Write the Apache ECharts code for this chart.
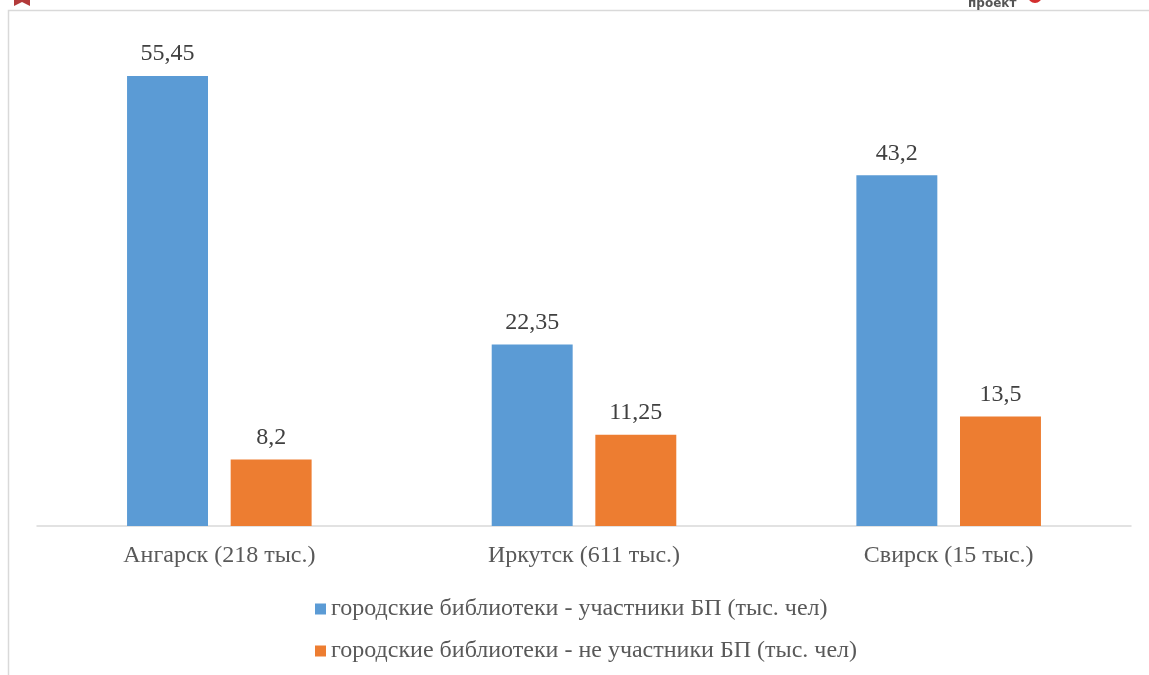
<!DOCTYPE html>
<html><head><meta charset="utf-8">
<script src="https://cdn.jsdelivr.net/npm/echarts@6/dist/echarts.min.js"></script>
<style>html,body{margin:0;padding:0;background:#fff}#c{width:1149px;height:675px}</style>
</head><body><div id="c"></div>
<script>
const categories = ['Ангарск (218 тыс.)', 'Иркутск (611 тыс.)', 'Свирск (15 тыс.)'];
const seriesNames = ['городские библиотеки - участники БП (тыс. чел)', 'городские библиотеки - не участники БП (тыс. чел)'];
const participants = [55.45, 22.35, 43.2];
const nonParticipants = [8.2, 11.25, 13.5];

const chart = echarts.init(document.getElementById('c'));
const font = '"Liberation Serif", "Times New Roman", serif';
const lbl = {
  show: true, position: 'top', distance: 10,
  fontFamily: font, fontSize: 24, color: '#404040',
  formatter: p => String(p.value).replace('.', ',')
};
chart.setOption({
  animation: false,
  graphic: [
    { type: 'polyline', shape: { points: [[8.5, 676], [8.5, 10.5], [1150, 10.5]] }, style: { stroke: '#d9d9d9', lineWidth: 1.5, fill: null } },
    { type: 'text', x: 968, y: 10, style: { text: 'проект', font: 'bold 12px "DejaVu Sans", sans-serif', fill: '#555', textVerticalAlign: 'bottom' } },
    { type: 'circle', shape: { cx: 1035, cy: -4, r: 7 }, style: { fill: '#d32f2f' } },
    { type: 'polygon', shape: { points: [[14, 0], [30, 0], [30, 6], [22, 2], [14, 6]] }, style: { fill: '#b23a3a' } }
  ],
  grid: { left: 37, right: 18, top: 39, bottom: 149, containLabel: false },
  xAxis: {
    type: 'category', data: categories,
    axisLine: { lineStyle: { color: '#d9d9d9', width: 1.5 } },
    axisTick: { show: false },
    axisLabel: { fontFamily: font, fontSize: 24, color: '#595959', margin: 18 }
  },
  yAxis: { type: 'value', min: 0, max: 60, show: false, splitLine: { show: false } },
  legend: {
    orient: 'vertical', left: 310, top: 592, itemGap: 18,
    itemWidth: 11, itemHeight: 11, icon: 'rect',
    textStyle: { fontFamily: font, fontSize: 24, color: '#595959', padding: [0, 0, 0, 0] },
    data: seriesNames
  },
  series: [
    { name: seriesNames[0], type: 'bar', data: participants, barWidth: '22.2%', barGap: '28%', itemStyle: { color: '#5b9bd5' }, label: lbl },
    { name: seriesNames[1], type: 'bar', data: nonParticipants, barWidth: '22.2%', itemStyle: { color: '#ed7d31' }, label: lbl }
  ]
});
</script></body></html>
